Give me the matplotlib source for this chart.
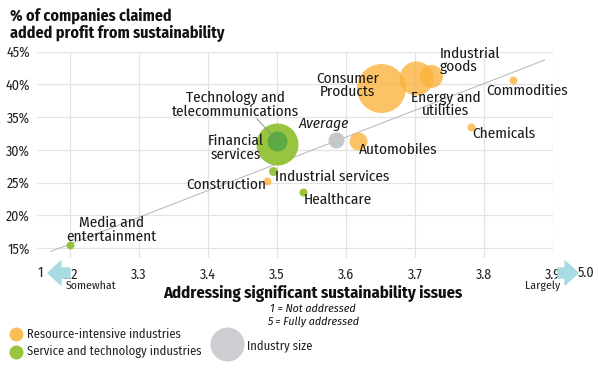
import matplotlib
matplotlib.use("Agg")
import matplotlib.pyplot as plt
import numpy as np

# ---------------- data ----------------
industries = ["Media and\nentertainment", "Construction", "Industrial services", "Healthcare",
              "Financial\nservices", "Technology and\ntelecommunications", "Average", "Automobiles",
              "Consumer\nProducts", "Energy and\nutilities", "Industrial\ngoods", "Commodities",
              "Chemicals"]
addressing = [3.20, 3.486, 3.494, 3.538, 3.50, 3.50, 3.585, 3.617, 3.651, 3.701, 3.723, 3.842, 3.781]
profit_pct = [15.5, 25.3, 26.8, 23.6, 30.9, 31.4, 31.5, 31.4, 39.4, 40.9, 41.2, 40.7, 33.5]
industry_size = [16, 16, 20, 16, 441, 100, 64, 81, 600, 289, 132, 16, 16]
group = ["service", "resource", "service", "service", "service", "service", "average",
         "resource", "resource", "resource", "resource", "resource", "resource"]
trend_x = [3.172, 3.888]
trend_y = [14.5, 43.7]
x_ticks = [3.2, 3.3, 3.4, 3.5, 3.6, 3.7, 3.8, 3.9]
y_ticks = [15, 20, 25, 30, 35, 40, 45]

# ---------------- style ----------------
FONT = ["Fira Sans Condensed", "Archivo Narrow", "Liberation Sans Narrow", "DejaVu Sans"]
plt.rcParams["font.family"] = FONT
colors = {"resource": "#FAB23A", "service": "#8DBE2A", "average": "#C6C7CA"}
alphas = {"resource": 0.78, "service": 0.9, "average": 1.0}
special_color = {"Technology and\ntelecommunications": ("#4FA345", 0.8)}
# label offsets in pixels relative to bubble centre (dx right, dy down), ha
label_pos = {
    "Media and\nentertainment": (41, -15, "center"),
    "Construction": (-1, 4, "right"),
    "Industrial services": (2, 6, "left"),
    "Healthcare": (0, 8, "left"),
    "Financial\nservices": (-41, 4, "center"),
    "Technology and\ntelecommunications": (-42, -36, "center"),
    "Average": (-12, -16, "center"),
    "Automobiles": (1, 9, "left"),
    "Consumer\nProducts": (-34, -3, "center"),
    "Energy and\nutilities": (30, 26, "center"),
    "Industrial\ngoods": (9, -16, "left"),
    "Commodities": (-27, 11, "left"),
    "Chemicals": (1, 7, "left"),
}

W, H = 599, 376
fig = plt.figure(figsize=(W / 100, H / 100), dpi=100)
ax = fig.add_axes([37 / W, 1 - 258 / H, (553 - 37) / W, (258 - 51.5) / H])
ax.set_xlim(3.152, 3.9)
ax.set_ylim(13.5, 45)
for s in ax.spines.values():
    s.set_visible(False)
ax.set_xticks(x_ticks)
ax.set_yticks(y_ticks)
ax.grid(True, color="#E3E3E3", lw=0.9)
ax.set_axisbelow(True)
ax.tick_params(length=0, labelsize=10, colors="#222222")
ax.set_xticklabels([f"{v:.1f}" for v in x_ticks])
ax.set_yticklabels([f"{v}%" for v in y_ticks])
ax.tick_params(axis="x", pad=7)
ax.tick_params(axis="y", pad=5)

# trend line
ax.plot(trend_x, trend_y, color="#B5B5B5", lw=0.7, zorder=1)

# bubbles (draw big first)
order = np.argsort(industry_size)[::-1]
px2pt = 0.72
for i in order:
    g = group[i]
    c, a = special_color.get(industries[i], (colors[g], alphas[g]))
    r = np.sqrt(industry_size[i])
    ax.scatter(addressing[i], profit_pct[i], s=(2 * r * px2pt) ** 2, color=c, alpha=a,
               lw=0, zorder=2)

for i, name in enumerate(industries):
    dx, dy, ha = label_pos[name]
    style = "italic" if name == "Average" else "normal"
    ax.annotate(name, (addressing[i], profit_pct[i]), xytext=(dx * px2pt, -dy * px2pt),
                textcoords="offset points", ha=ha, va="center", fontsize=11,
                style=style, color="#1a1a1a", linespacing=0.95, zorder=5)

# leader line from technology label
ti = industries.index("Technology and\ntelecommunications")
ax.annotate("", (addressing[ti], profit_pct[ti]), xytext=(-22 * px2pt, 24 * px2pt),
            textcoords="offset points",
            arrowprops=dict(arrowstyle="-", color="#888888", lw=0.6), zorder=4)

# title
fig.text(10 / W, 1 - 16 / H, "% of companies claimed", fontsize=11.5, weight="bold",
         va="center", ha="left", color="#111111")
fig.text(10 / W, 1 - 33 / H, "added profit from sustainability", fontsize=11.5, weight="bold",
         va="center", ha="left", color="#111111")

# scale extremes and arrows
arrow_c = "#A9DBE3"
fig.patches.append(matplotlib.patches.FancyArrow(70 / W, 1 - 273 / H, -22 / W, 0,
                   width=10 / H, head_width=24 / H, head_length=13 / W,
                   length_includes_head=True, color=arrow_c, transform=fig.transFigure,
                   zorder=0))
fig.patches.append(matplotlib.patches.FancyArrow(558 / W, 1 - 273 / H, 20 / W, 0,
                   width=10 / H, head_width=24 / H, head_length=13 / W,
                   length_includes_head=True, color=arrow_c, transform=fig.transFigure,
                   zorder=0))
fig.text(40 / W, 1 - 273 / H, "1", fontsize=10, ha="center", va="center", color="#222222")
fig.text(586 / W, 1 - 273 / H, "5.0", fontsize=10, ha="center", va="center", color="#222222")
fig.text(66 / W, 1 - 286 / H, "Somewhat", fontsize=8.5, ha="left", va="center", color="#222222")
fig.text(560 / W, 1 - 286 / H, "Largely", fontsize=8.5, ha="right", va="center", color="#222222")

fig.text(313 / W, 1 - 294 / H, "Addressing significant sustainability issues", fontsize=12,
         weight="bold", ha="center", va="center", color="#111111")
fig.text(313 / W, 1 - 308.5 / H, "1 = Not addressed", fontsize=8.5, style="italic",
         ha="center", va="center", color="#111111")
fig.text(313 / W, 1 - 321.5 / H, "5 = Fully addressed", fontsize=8.5, style="italic",
         ha="center", va="center", color="#111111")

# legend
lx = fig.add_axes([0, 0, 1, 1], facecolor="none")
lx.set_xlim(0, W)
lx.set_ylim(H, 0)
lx.axis("off")
lx.scatter([16], [334], s=(14 * px2pt) ** 2, color=colors["resource"], alpha=0.85, lw=0)
lx.scatter([16], [352], s=(14 * px2pt) ** 2, color=colors["service"], alpha=0.9, lw=0)
lx.scatter([227], [344], s=(34 * px2pt) ** 2, color="#CDCED1", lw=0)
lx.text(27, 334, "Resource-intensive industries", fontsize=9, va="center", ha="left", color="#222222")
lx.text(27, 352, "Service and technology industries", fontsize=9, va="center", ha="left", color="#222222")
lx.text(247, 346, "Industry size", fontsize=9, va="center", ha="left", color="#222222")

fig.savefig("out.png", dpi=100)
